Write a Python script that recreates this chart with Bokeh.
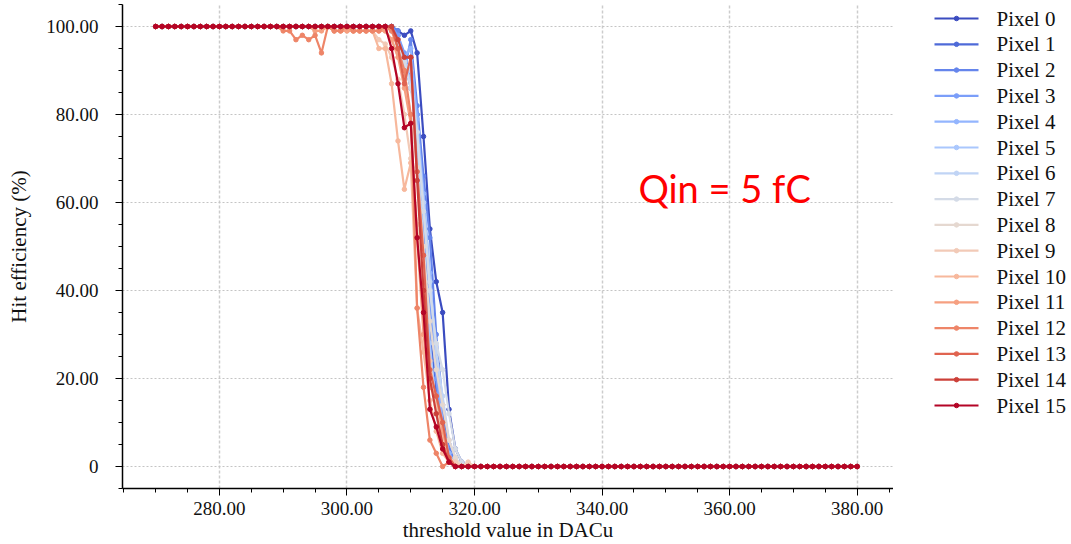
from bokeh.plotting import figure
from bokeh.layouts import row
from bokeh.models import Label, FixedTicker, Range1d, CustomJSTickFormatter
from bokeh.core.properties import value
from bokeh.embed import file_html
from bokeh.resources import INLINE

# Threshold scan in DAC units, one step per DAC count
thresholds = list(range(270, 381))

# Scans are flat at 100 % below the window and at 0 % above it;
# the values inside the window are listed per pixel (x = 288 ... 320).
window_start = 288
window_end = 320
plateau_high = 100
plateau_low = 0

pixel_0 = [100, 100, 100, 100, 100, 100, 100, 100, 100, 100, 100, 100,
           100, 100, 100, 100, 100, 100, 100, 100, 99, 98, 99, 94, 75, 54, 42, 35, 13, 4, 1, 0, 0]
pixel_1 = [100, 100, 100, 100, 100, 100, 100, 100, 100, 100, 100, 100,
           100, 100, 100, 100, 100, 100, 100, 100, 98, 92, 86, 80, 55, 30, 18, 12, 4, 1, 0, 0, 0]
pixel_2 = [100, 100, 100, 100, 100, 100, 100, 100, 100, 100, 100, 100,
           100, 100, 100, 100, 100, 100, 100, 100, 99, 90, 97, 82, 66, 52, 30, 14, 5, 1, 0, 0, 0]
pixel_3 = [100, 100, 100, 100, 100, 100, 100, 100, 100, 100, 100, 100,
           100, 100, 100, 100, 100, 100, 100, 100, 98, 94, 88, 80, 57, 38, 20, 8, 3, 1, 0, 0, 0]
pixel_4 = [100, 100, 100, 100, 100, 100, 100, 100, 100, 100, 100, 100,
           100, 100, 100, 100, 100, 100, 100, 99, 97, 93, 95, 79, 62, 44, 24, 10, 3, 0, 0, 0, 0]
pixel_5 = [100, 100, 100, 100, 100, 100, 100, 100, 100, 100, 100, 100,
           100, 100, 100, 100, 100, 100, 100, 100, 96, 91, 88, 73, 50, 28, 12, 5, 1, 0, 0, 0, 0]
pixel_6 = [100, 100, 100, 100, 100, 100, 100, 100, 100, 100, 100, 100,
           100, 100, 100, 100, 100, 100, 100, 99, 97, 92, 90, 76, 60, 42, 26, 16, 6, 2, 0, 0, 0]
pixel_7 = [100, 100, 100, 100, 100, 100, 100, 100, 100, 100, 100, 100,
           100, 100, 100, 100, 100, 100, 100, 99, 97, 92, 86, 76, 58, 40, 28, 22, 12, 4, 1, 0, 0]
pixel_8 = [100, 100, 100, 100, 100, 100, 100, 100, 100, 100, 100, 100,
           100, 100, 100, 100, 100, 100, 99, 97, 94, 88, 80, 68, 50, 33, 22, 14, 6, 2, 0, 0, 0]
pixel_9 = [100, 100, 100, 100, 100, 100, 100, 100, 100, 100, 99, 99,
           99, 99, 99, 99, 99, 97, 96, 93, 88, 80, 70, 55, 38, 24, 14, 7, 2, 1, 0, 1, 0]
pixel_10 = [100, 100, 100, 100, 100, 100, 100, 100, 100, 100, 100, 100,
            100, 99, 99, 99, 99, 95, 95, 87, 74, 63, 69, 36, 26, 15, 8, 3, 1, 0, 0, 0, 0]
pixel_11 = [100, 100, 100, 100, 100, 100, 100, 99, 99, 100, 99, 99,
            99, 99, 99, 99, 99, 99, 99, 97, 93, 86, 78, 52, 30, 18, 16, 8, 2, 0, 0, 0, 0]
pixel_12 = [100, 100, 99, 99, 97, 98, 97, 98, 94, 100, 99, 99,
            100, 99, 99, 99, 99, 99, 100, 99, 95, 90, 80, 36, 18, 6, 3, 0, 1, 0, 0, 0, 0]
pixel_13 = [100, 100, 100, 100, 100, 100, 100, 100, 100, 100, 100, 100,
            100, 100, 100, 100, 100, 100, 100, 100, 95, 87, 93, 67, 48, 22, 16, 10, 2, 0, 0, 0, 0]
pixel_14 = [100, 100, 100, 100, 100, 100, 100, 100, 100, 100, 100, 100,
            100, 100, 100, 100, 100, 100, 100, 100, 97, 93, 93, 65, 40, 20, 12, 5, 1, 0, 0, 0, 0]
pixel_15 = [100, 100, 100, 100, 100, 100, 100, 100, 100, 100, 100, 100,
            100, 100, 100, 100, 100, 100, 100, 95, 87, 77, 78, 52, 35, 13, 9, 4, 1, 0, 0, 0, 0]

pixel_windows = [pixel_0, pixel_1, pixel_2, pixel_3, pixel_4, pixel_5, pixel_6, pixel_7,
                 pixel_8, pixel_9, pixel_10, pixel_11, pixel_12, pixel_13, pixel_14, pixel_15]
pixel_labels = [f"Pixel {i}" for i in range(16)]

# coolwarm, sampled at 16 evenly spaced points
pixel_colors = ["#3b4cc0", "#4e6ad8", "#6585ec", "#7b9ef9", "#93b5fe", "#aac7fd",
                "#c0d4f5", "#d4dbe7", "#e5d8d0", "#f2cab7", "#f7b89c", "#f6a081",
                "#ee8568", "#e06450", "#cc4039", "#b40426"]

x_ticks = [280, 300, 320, 340, 360, 380]
y_ticks = [0, 20, 40, 60, 80, 100]

serif = "Liberation Serif"
ink = "#111111"


def full_scan(window):
    n_low = window_start - thresholds[0]
    n_high = thresholds[-1] - window_end
    return [plateau_high] * n_low + window + [plateau_low] * n_high


# ---- main panel -------------------------------------------------------------
p = figure(width=893, height=544,
           x_range=Range1d(264.8, 385.7), y_range=Range1d(-5, 105),
           output_backend="svg", toolbar_location=None,
           min_border_left=122, min_border_right=0,
           min_border_top=4, min_border_bottom=56)
p.outline_line_color = None
p.background_fill_color = "white"

for color, window in zip(pixel_colors, pixel_windows):
    scan = full_scan(window)
    p.line(thresholds, scan, line_color=color, line_width=2.2)
    p.scatter(thresholds, scan, size=4.5, fill_color=color, line_color=color)

fmt = CustomJSTickFormatter(code="return tick == 0 ? '0' : tick.toFixed(2);")
p.xaxis.ticker = FixedTicker(ticks=x_ticks, minor_ticks=list(range(265, 390, 5)))
p.yaxis.ticker = FixedTicker(ticks=y_ticks, minor_ticks=list(range(-5, 106, 5)))
for ax in (p.xaxis, p.yaxis):
    ax.formatter = fmt
    ax.axis_line_color = "black"
    ax.axis_line_width = 1.5
    ax.major_tick_line_color = "black"
    ax.minor_tick_line_color = "black"
    ax.major_tick_in = 0
    ax.major_tick_out = 7
    ax.minor_tick_in = 0
    ax.minor_tick_out = 4
    ax.major_label_text_font = serif
    ax.major_label_text_font_size = "19px"
    ax.major_label_text_color = ink
    ax.axis_label_text_font = serif
    ax.axis_label_text_font_size = "21px"
    ax.axis_label_text_font_style = "normal"
    ax.axis_label_text_color = ink

p.xaxis.axis_label = "threshold value in DACu"
p.yaxis.axis_label = "Hit efficiency (%)"
p.xaxis.major_label_standoff = 6
p.yaxis.major_label_standoff = 17
p.xaxis.axis_label_standoff = 0
p.yaxis.axis_label_standoff = 12

p.xgrid.grid_line_color = "#cccccc"
p.xgrid.grid_line_width = 1.5
p.xgrid.grid_line_dash = "3 2"
p.ygrid.grid_line_color = "#c4c4c4"
p.ygrid.grid_line_width = 1
p.ygrid.grid_line_dash = "2 2"

p.add_layout(Label(x=345.7, y=63.4, text="Qin = 5 fC", text_color="#ff0000",
                   text_font="Lato", text_font_size="38px", text_baseline="middle"))

# ---- legend panel (screen-like coordinates, y grows downward) ---------------
leg_w, leg_h = 178, 544
leg = figure(frame_width=leg_w, frame_height=leg_h,
             x_range=Range1d(0, leg_w), y_range=Range1d(leg_h, 0),
             output_backend="svg", toolbar_location=None,
             x_axis_location=None, y_axis_location=None,
             min_border=0, min_border_left=0, min_border_right=0,
             min_border_top=0, min_border_bottom=0)
leg.grid.visible = False
leg.outline_line_color = None

row_top = 14
row_step = 25.8
sample_x0, sample_x1 = 41, 85
text_x = 103
rows = [row_top + row_step * i for i in range(len(pixel_labels))]

leg.segment(x0=[sample_x0] * len(rows), y0=rows, x1=[sample_x1] * len(rows), y1=rows,
            line_color=pixel_colors, line_width=2.2)
leg.scatter(x=[(sample_x0 + sample_x1) / 2] * len(rows), y=rows, size=4.5,
            fill_color=pixel_colors, line_color=pixel_colors)
leg.text(x=[text_x] * len(rows), y=rows, text=pixel_labels,
         text_font=value(serif), text_font_size="21px", text_color=ink,
         text_baseline="middle", text_align="left")

layout = row(p, leg, spacing=0)
open("out.html", "w").write(file_html(layout, INLINE))
